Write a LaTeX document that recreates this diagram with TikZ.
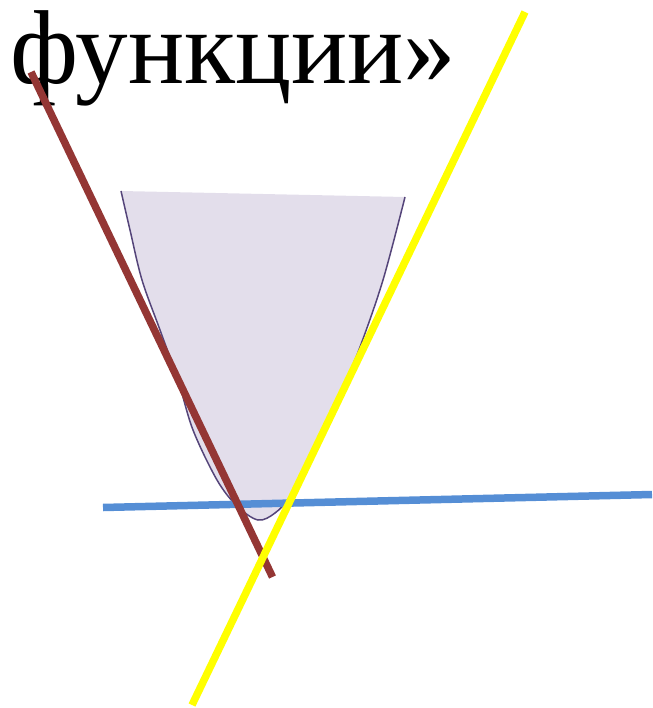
\documentclass[tikz,border=0pt]{standalone}
\usepackage{fontspec}
\setmainfont{Liberation Serif}
\usepackage{tikz}
\usetikzlibrary{calc}

\definecolor{lineBrown}{HTML}{943634}
\definecolor{lineYellow}{HTML}{FFFF00}
\definecolor{lineBlue}{HTML}{558ED5}
\definecolor{areaFill}{HTML}{E3DEEB}
\definecolor{areaEdge}{HTML}{55457A}

\begin{document}
\begin{tikzpicture}[x=1pt,y=-1pt,
  every node/.style={inner sep=0pt,outer sep=0pt},
  titletext/.style={font=\fontsize{105}{108}\selectfont,anchor=base west},
  region/.style={fill=areaFill,draw=none},
  edge/.style={draw=areaEdge,line width=1.5pt},
  tangent/.style={line width=7.5pt}]

\useasboundingbox (0,0) rectangle (652,708);

% heading fragment
\node[titletext] (title) at (10,84) {функции»};

% shaded area above the curve
\path[region] (121,191) -- (405,197)
  -- plot[smooth,tension=0.55] coordinates {(405,197) (383,280) (360,347) (345,382)
     (329,415) (310,455) (290,496) (275,513) (258,520) (237,506) (217,480)
     (193,430) (178,380) (160,330) (142,280) (130,230) (121,191)} -- cycle;

% curve outline
\draw[edge] plot[smooth,tension=0.55] coordinates {(405,197) (383,280) (360,347) (345,382)
     (329,415) (310,455) (290,496) (275,513) (258,520) (237,506) (217,480)
     (193,430) (178,380) (160,330) (142,280) (130,230) (121,191)};

% end points of the three lines
\coordinate (blueA) at (103,507.5);
\coordinate (blueB) at (652,494.5);
\coordinate (brownA) at (31,72);
\coordinate (brownB) at (272.5,577);
\coordinate (yellowA) at (525,12);
\coordinate (yellowB) at (192,705);

\draw[tangent,lineBlue] (blueA) -- (blueB);
\draw[tangent,lineBrown] (brownA) -- (brownB);
\draw[tangent,lineYellow] (yellowA) -- (yellowB);

\end{tikzpicture}
\end{document}
